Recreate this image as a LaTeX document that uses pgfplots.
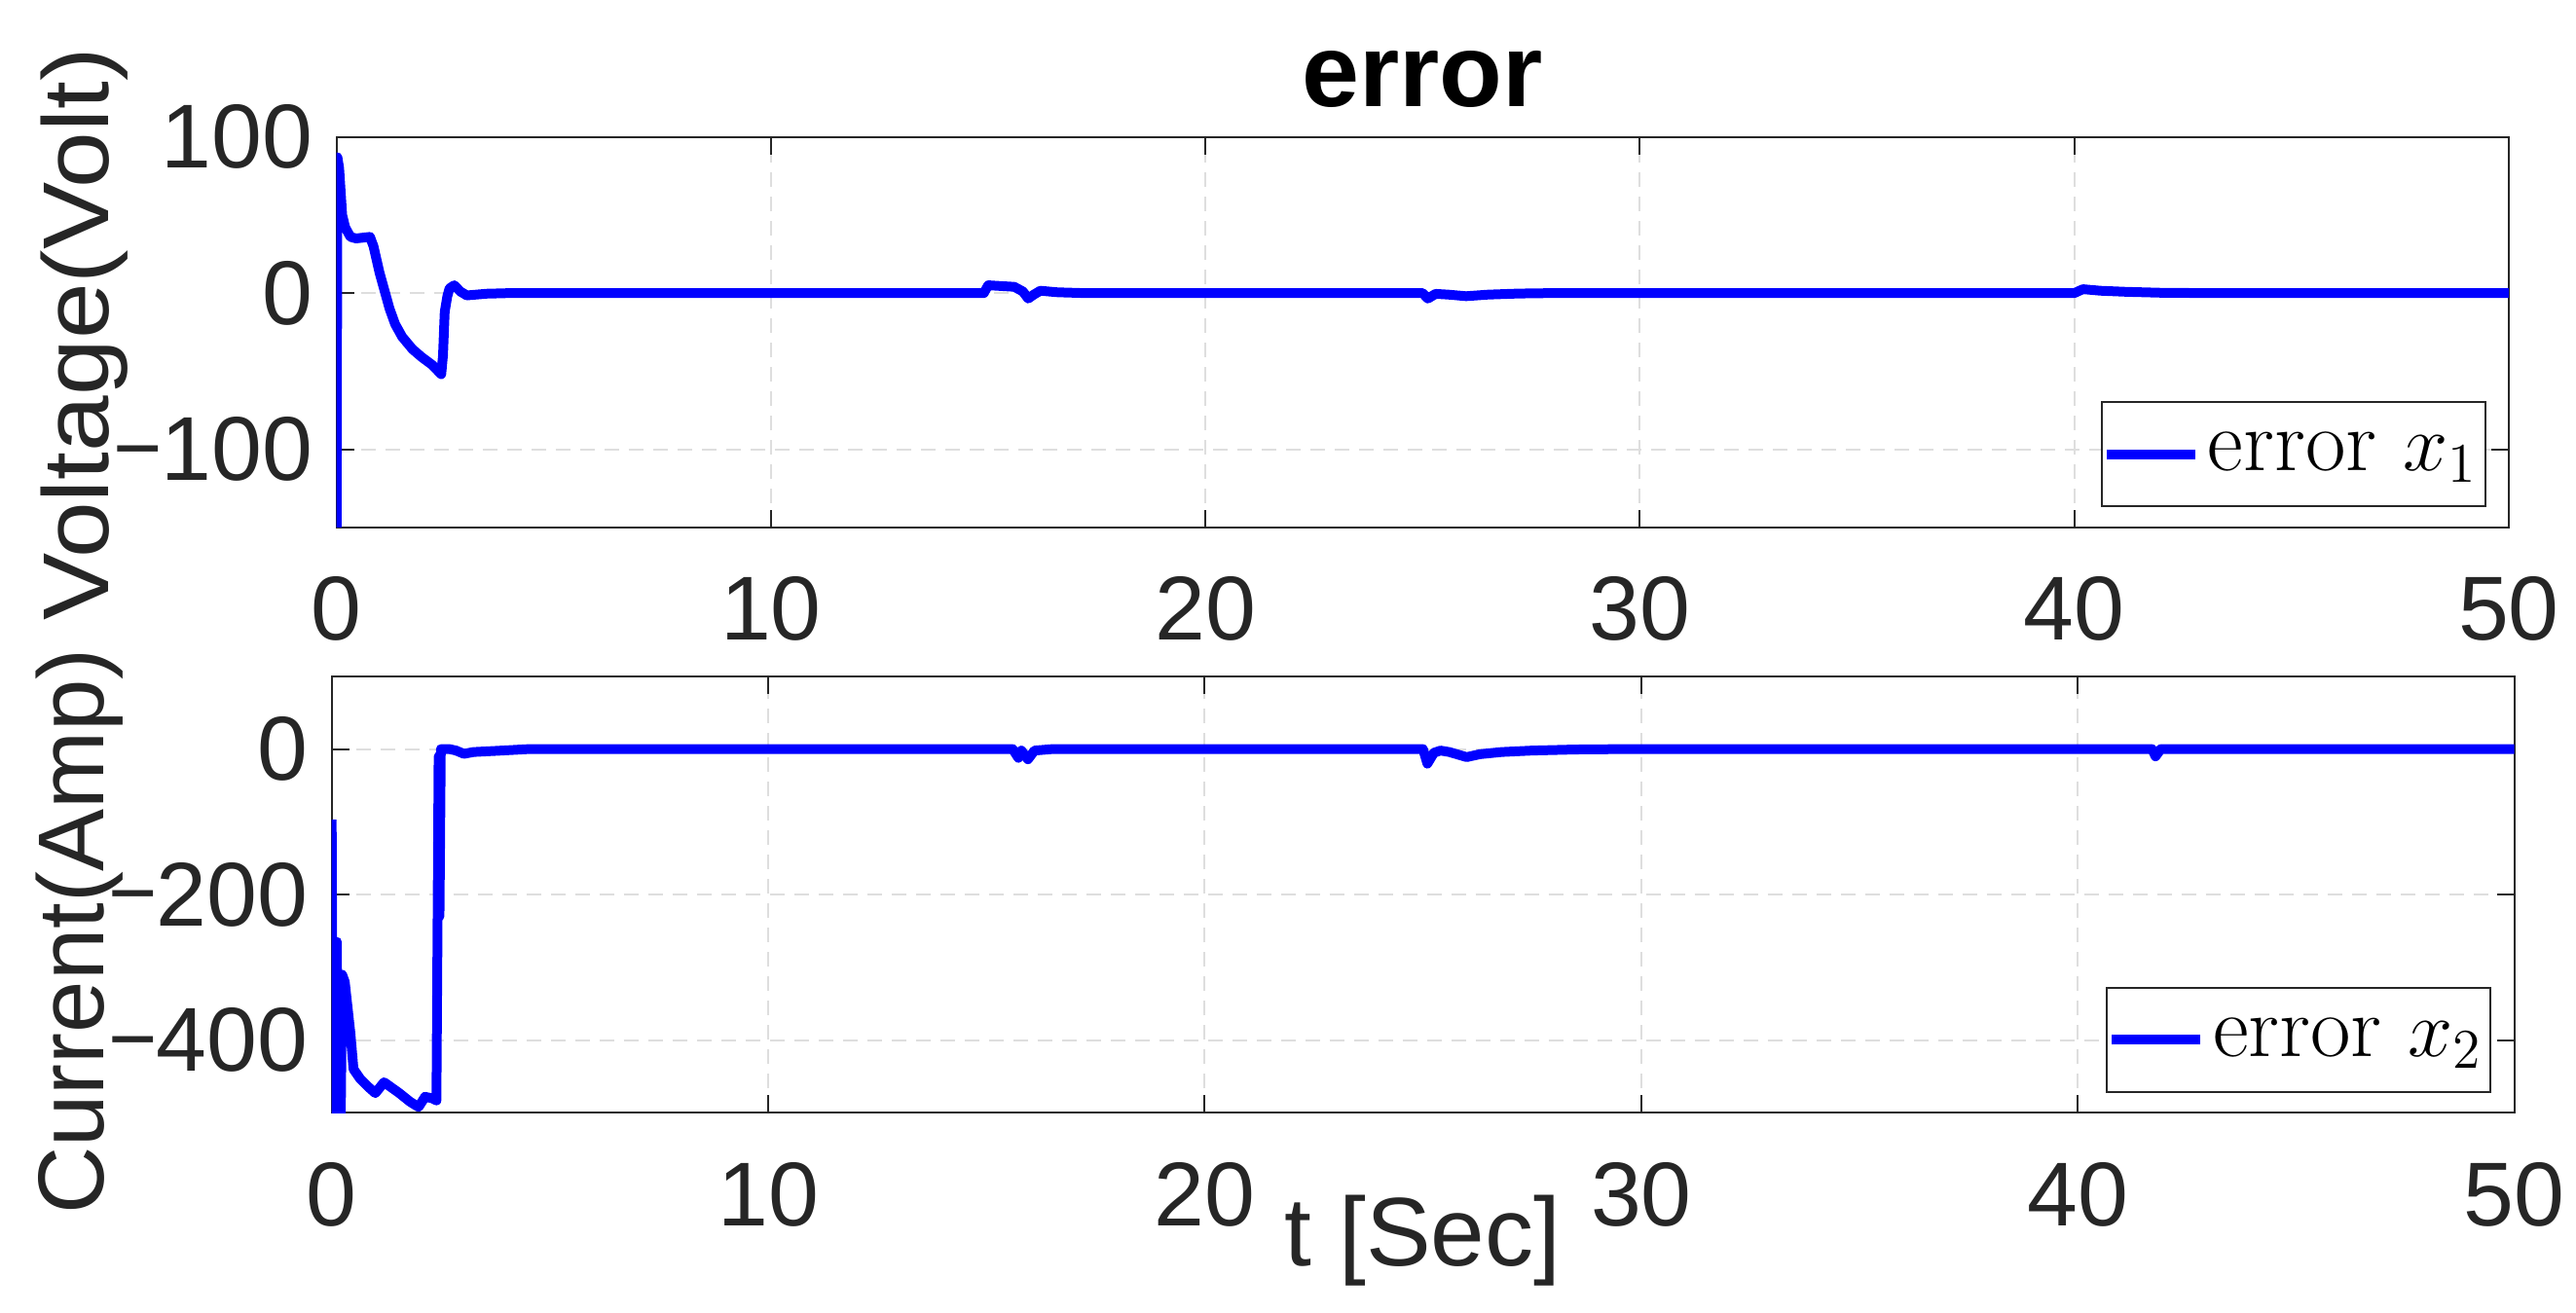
\documentclass[border=0pt]{standalone}
\usepackage{pgfplots}
\pgfplotsset{compat=1.18}
\usepackage{fontspec}
\newfontfamily\arial{Liberation Sans}
\newfontfamily\heros{TeX Gyre Heros}
\definecolor{mgray}{rgb}{0.15,0.15,0.15}
\definecolor{gridc}{rgb}{0.87,0.87,0.87}
\newcommand{\mn}{\raisebox{0.1em}{\heros −}\kern-0.03em}
\begin{document}
\begin{tikzpicture}[x=1pt,y=1pt]
\useasboundingbox (0,0) rectangle (661.5,-337.25);
\pgfplotsset{
 myaxis/.style={
  scale only axis,
  xmin=0,xmax=50,
  xtick={0,10,20,30,40,50},
  xticklabels={0,10,20,30,40,50},
  axis line style={mgray, line width=0.5pt},
  every tick/.style={mgray, line width=0.5pt},
  major tick length=4.5pt,
  grid=major,
  major grid style={gridc, dash pattern=on 3.75pt off 2.5pt, line width=0.5pt},
  tick label style={font=\arial\fontsize{23.3}{28}\selectfont, text=mgray, inner sep=0pt},
  xticklabel style={yshift=-12.5pt},
  yticklabel style={xshift=-5.9pt},
  legend style={anchor=south east, draw=mgray, line width=0.5pt, fill=white, inner xsep=0pt, inner ysep=5.6pt, font=\fontsize{22.5}{27}\selectfont, text=black, legend cell align=left},
  legend image code/.code={\draw[##1, line width=2.5pt] (0pt,0pt) -- (22.75pt,0pt);},
 }
}
\begin{axis}[myaxis,
  at={(86.425pt,-135.425pt)}, anchor=south west,
  width=557.8pt, height=100.25pt,
  ymin=-150, ymax=100,
  ytick={-100,0,100},
  yticklabels={\mn100,0,100},
  ylabel={\scalebox{1.08}[1]{Voltage(Volt)}},
  every axis y label/.style={at={([xshift=-58.5pt,yshift=-0.5pt]axis description cs:0,0.5)}, rotate=90, anchor=base, font=\arial\fontsize{24}{29}\selectfont, text=mgray, inner sep=0pt},
  title={error},
  every axis title/.style={at={(axis description cs:0.5,1)}, anchor=base, yshift=7.9pt, font=\arial\bfseries\fontsize{26.5}{32}\selectfont, text=black, inner sep=0pt},
  legend style={at={([xshift=-5.75pt,yshift=5.2pt]axis description cs:1,0)}},
]
\addplot[color=blue, line width=2.5pt, line join=round] coordinates {
(0,-200) (0.02,87) (0.06,80) (0.13,50) (0.2,42) (0.32,36) (0.45,35) (0.77,36)
(0.85,30) (0.99,13) (1.1,2) (1.22,-10) (1.35,-20) (1.51,-28) (1.75,-36) (1.96,-41)
(2.2,-46) (2.41,-52) (2.45,-40) (2.49,-12) (2.55,-2) (2.6,3) (2.71,5) (2.85,1)
(3.0,-1.5) (3.46,-0.4) (4,0) (14.9,0) (15.0,5) (15.6,4) (15.8,1) (15.92,-3.5)
(16.05,-1) (16.2,1.5) (16.6,0.5) (17.2,0) (25.0,0) (25.12,-3.5) (25.3,-0.5)
(25.6,-1) (26.0,-2) (26.5,-1) (27.2,-0.3) (28,0) (40.0,0) (40.2,2.5) (40.6,1.5)
(41.2,0.8) (42,0.2) (43,0) (50,0)
};
\addlegendentry{error $x_1$}
\end{axis}
\begin{axis}[myaxis,
  at={(85.175pt,-285.825pt)}, anchor=south west,
  width=560.5pt, height=112.1pt,
  ymin=-500, ymax=100,
  ytick={-400,-200,0},
  yticklabels={\mn400,\mn200,0},
  ylabel={Current(Amp)},
  every axis y label/.style={at={([xshift=-58.5pt,yshift=-9.5pt]axis description cs:0,0.5)}, rotate=90, anchor=base, font=\arial\fontsize{24}{29}\selectfont, text=mgray, inner sep=0pt},
  xlabel={t [Sec]},
  every axis x label/.style={at={([yshift=-39.25pt]axis description cs:0.5,0)}, anchor=base, font=\arial\fontsize{25}{30}\selectfont, text=mgray, inner sep=0pt},
  legend style={at={([xshift=-5.9pt,yshift=5.15pt]axis description cs:1,0)}},
]
\addplot[color=blue, line width=2.5pt, line join=round] coordinates {
(0,-97) (0.03,-560) (0.08,-560) (0.12,-265) (0.15,-560) (0.2,-560) (0.24,-310)
(0.3,-320) (0.43,-391) (0.5,-440) (0.65,-453) (0.85,-465) (1.0,-473) (1.2,-458)
(1.55,-473) (1.8,-485) (1.99,-492) (2.14,-478) (2.3,-480) (2.4,-483) (2.45,-10)
(2.47,-230) (2.5,0) (2.7,0) (2.85,-2) (3.03,-6.5) (3.25,-4) (3.9,-2) (4.5,0)
(15.6,0) (15.73,-12) (15.8,-2) (15.95,-14) (16.1,-2) (16.5,0) (25.0,0) (25.1,-20)
(25.25,-5) (25.4,-2) (25.6,-4) (26.0,-11) (26.3,-7) (26.8,-4) (27.5,-2) (28.5,-0.5)
(29.5,0) (41.7,0) (41.78,-10) (41.9,0) (50,0)
};
\addlegendentry{error $x_2$}
\end{axis}
\end{tikzpicture}
\end{document}
